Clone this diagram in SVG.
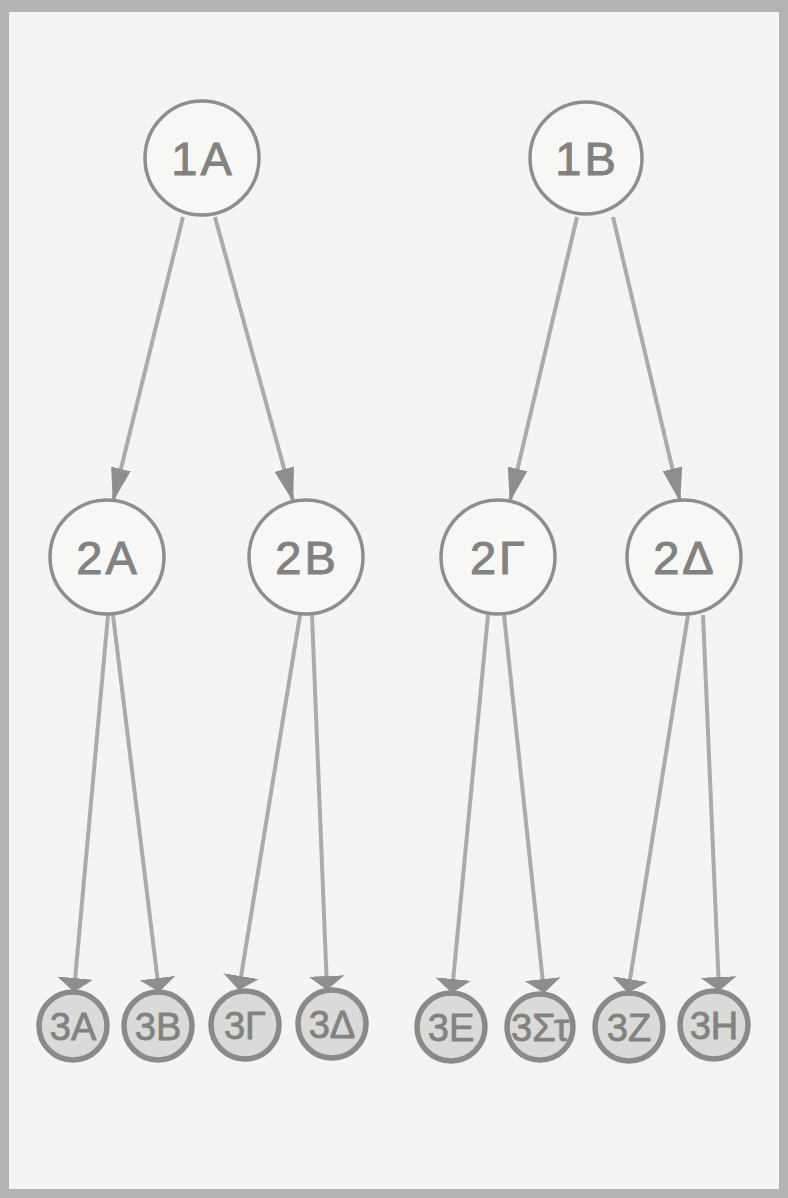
<svg xmlns="http://www.w3.org/2000/svg" width="788" height="1198" viewBox="0 0 788 1198">
<defs>
<style>
.n1 { fill: #f7f7f5; stroke: #8e8e8e; stroke-width: 3.5; }
.n3 { fill: #dadad8; stroke: #8a8a8a; stroke-width: 5.5; }
.t1 { font-family: "Liberation Sans", "DejaVu Sans", sans-serif; font-size: 47px; fill: #828282; stroke: #828282; stroke-width: 1; text-anchor: middle; letter-spacing: 3px; }
.t3 { font-family: "Liberation Sans", "DejaVu Sans", sans-serif; font-size: 38px; fill: #828282; stroke: #828282; stroke-width: 0.8; text-anchor: middle; }
.e { stroke: #ababab; stroke-width: 4; fill: none; }
.h { fill: #8e8e8e; }
</style>
<marker id="ah2" viewBox="0 0 34 22" refX="33" refY="11" markerWidth="34" markerHeight="22" markerUnits="userSpaceOnUse" orient="auto">
<path d="M0,1 L34,11 L0,21 Z" class="h"/>
</marker>
<marker id="ah3" viewBox="0 0 14 36" refX="13" refY="18" markerWidth="14" markerHeight="36" markerUnits="userSpaceOnUse" orient="auto">
<path d="M0,0 L14,18 L0,36 Z" class="h"/>
</marker>
</defs>
<rect x="0" y="0" width="788" height="1198" fill="#b3b3b3"/>
<rect x="9" y="12" width="770" height="1177" fill="#f4f4f2"/>
<g id="connectors">
<line class="e" x1="183" y1="217" x2="113" y2="501" marker-end="url(#ah2)"/>
<line class="e" x1="215" y1="217" x2="293" y2="501" marker-end="url(#ah2)"/>
<line class="e" x1="577" y1="217" x2="510" y2="501" marker-end="url(#ah2)"/>
<line class="e" x1="613" y1="217" x2="680" y2="501" marker-end="url(#ah2)"/>
<line class="e" x1="108" y1="615" x2="74" y2="991" marker-end="url(#ah3)"/>
<line class="e" x1="113" y1="615" x2="159" y2="991" marker-end="url(#ah3)"/>
<line class="e" x1="300" y1="615" x2="239" y2="989" marker-end="url(#ah3)"/>
<line class="e" x1="312" y1="615" x2="327" y2="989" marker-end="url(#ah3)"/>
<line class="e" x1="488" y1="615" x2="452" y2="992" marker-end="url(#ah3)"/>
<line class="e" x1="504" y1="615" x2="544" y2="992" marker-end="url(#ah3)"/>
<line class="e" x1="688" y1="615" x2="628" y2="992" marker-end="url(#ah3)"/>
<line class="e" x1="703" y1="615" x2="719" y2="990" marker-end="url(#ah3)"/>
</g>
<g id="n1A"><circle class="n1" cx="202" cy="158" r="57"/><text class="t1" x="203" y="175">1A</text></g>
<g id="n1B"><circle class="n1" cx="586" cy="158" r="56"/><text class="t1" x="587" y="175">1B</text></g>
<g id="n2A"><circle class="n1" cx="107" cy="557" r="57"/><text class="t1" x="108" y="574">2A</text></g>
<g id="n2B"><circle class="n1" cx="306" cy="557" r="57"/><text class="t1" x="307" y="574">2B</text></g>
<g id="n2G"><circle class="n1" cx="498" cy="557" r="57"/><text class="t1" x="499" y="574">2Γ</text></g>
<g id="n2D"><circle class="n1" cx="684" cy="557" r="57"/><text class="t1" x="685" y="574">2Δ</text></g>
<g id="n3A"><circle class="n3" cx="73" cy="1026" r="34"/><text class="t3" x="73" y="1040">3A</text></g>
<g id="n3B"><circle class="n3" cx="158" cy="1026" r="34"/><text class="t3" x="158" y="1040">3B</text></g>
<g id="n3G"><circle class="n3" cx="245" cy="1025" r="34"/><text class="t3" x="245" y="1039">3Γ</text></g>
<g id="n3D"><circle class="n3" cx="332" cy="1024" r="34"/><text class="t3" x="332" y="1038">3Δ</text></g>
<g id="n3E"><circle class="n3" cx="451" cy="1027" r="34"/><text class="t3" x="451" y="1041">3E</text></g>
<g id="n3ST"><circle class="n3" cx="540" cy="1027" r="33"/><text class="t3" x="540" y="1041" textLength="58" lengthAdjust="spacingAndGlyphs">3Στ</text></g>
<g id="n3Z"><circle class="n3" cx="629" cy="1027" r="34"/><text class="t3" x="629" y="1041">3Z</text></g>
<g id="n3H"><circle class="n3" cx="714" cy="1025" r="34"/><text class="t3" x="714" y="1039">3H</text></g>
</svg>
